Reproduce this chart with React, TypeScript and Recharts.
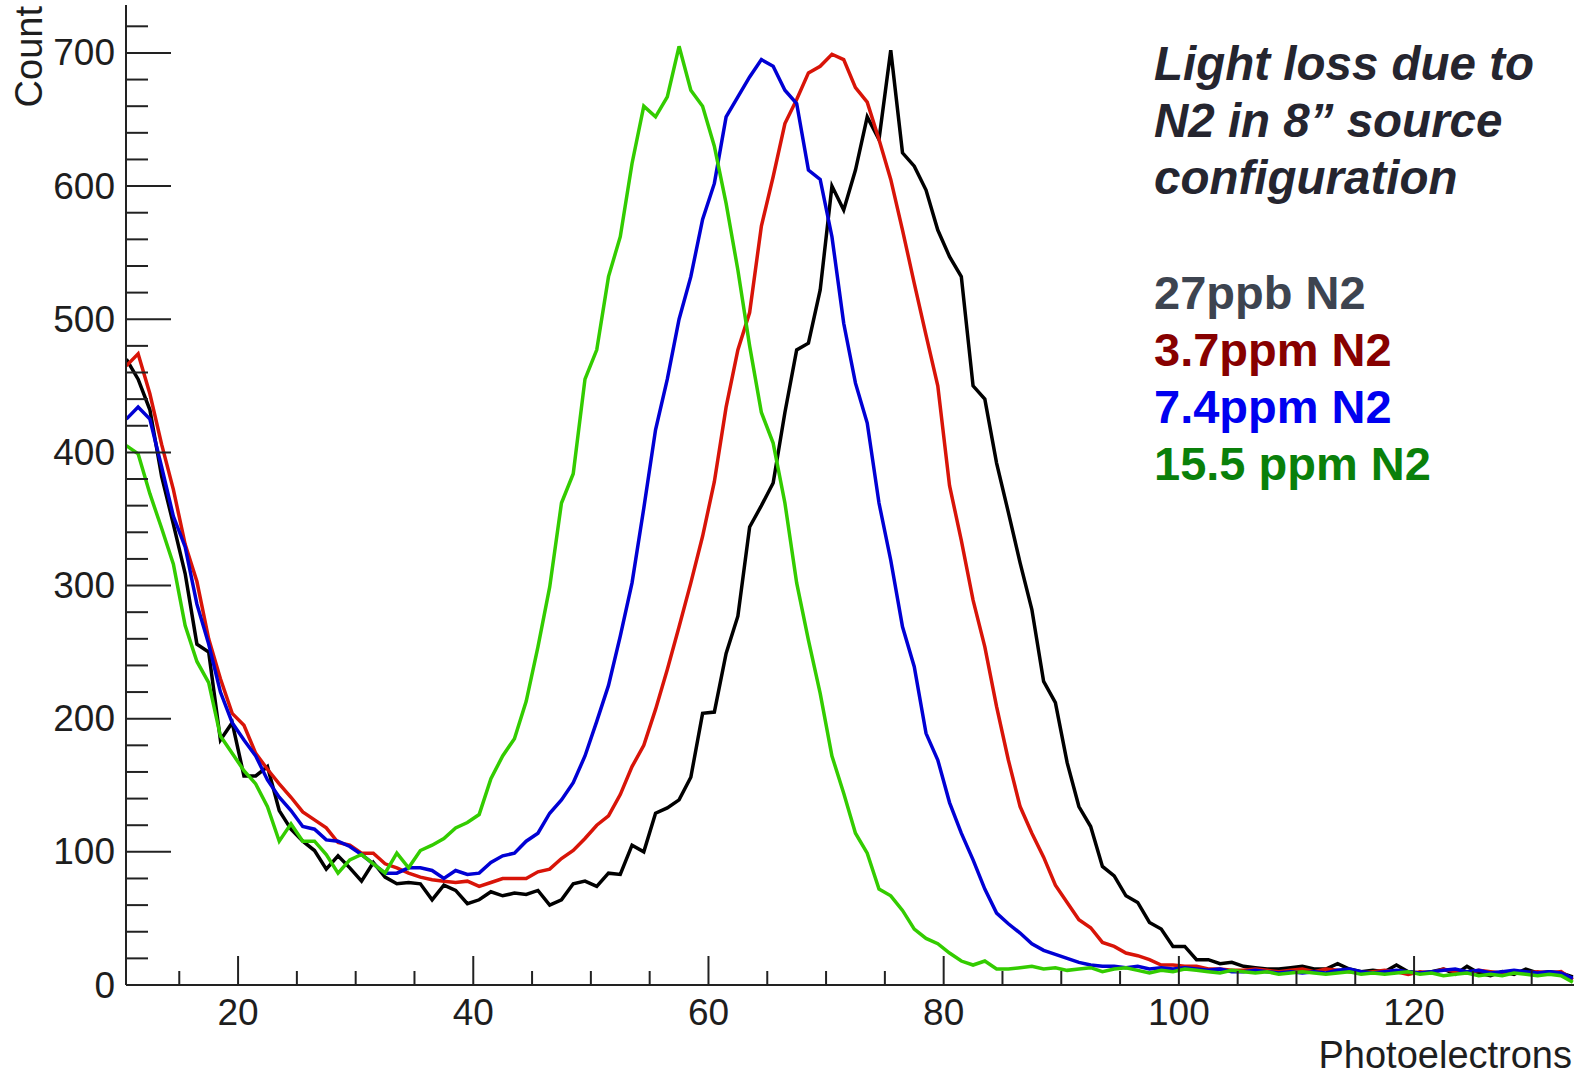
import React from 'react';
import { LineChart, Line, XAxis, YAxis } from 'recharts';

const photoelectrons = [
  10.5, 11.5, 12.5, 13.5, 14.5, 15.5, 16.5, 17.5, 18.5, 19.5,
  20.5, 21.5, 22.5, 23.5, 24.5, 25.5, 26.5, 27.5, 28.5, 29.5,
  30.5, 31.5, 32.5, 33.5, 34.5, 35.5, 36.5, 37.5, 38.5, 39.5,
  40.5, 41.5, 42.5, 43.5, 44.5, 45.5, 46.5, 47.5, 48.5, 49.5,
  50.5, 51.5, 52.5, 53.5, 54.5, 55.5, 56.5, 57.5, 58.5, 59.5,
  60.5, 61.5, 62.5, 63.5, 64.5, 65.5, 66.5, 67.5, 68.5, 69.5,
  70.5, 71.5, 72.5, 73.5, 74.5, 75.5, 76.5, 77.5, 78.5, 79.5,
  80.5, 81.5, 82.5, 83.5, 84.5, 85.5, 86.5, 87.5, 88.5, 89.5,
  90.5, 91.5, 92.5, 93.5, 94.5, 95.5, 96.5, 97.5, 98.5, 99.5,
  100.5, 101.5, 102.5, 103.5, 104.5, 105.5, 106.5, 107.5, 108.5, 109.5,
  110.5, 111.5, 112.5, 113.5, 114.5, 115.5, 116.5, 117.5, 118.5, 119.5,
  120.5, 121.5, 122.5, 123.5, 124.5, 125.5, 126.5, 127.5, 128.5, 129.5,
  130.5, 131.5, 132.5, 133.5,
];

const count27ppb = [
  470, 455, 432, 382, 346, 309, 256, 250, 184, 197,
  157, 157, 164, 131, 117, 108, 101, 87, 97, 88,
  78, 92, 81, 76, 77, 76, 64, 75, 71, 61,
  64, 70, 67, 69, 68, 71, 60, 64, 76, 78,
  74, 84, 83, 105, 100, 129, 133, 139, 156, 204,
  205, 249, 277, 344, 360, 377, 430, 477, 482, 522,
  600, 582, 612, 652, 635, 702, 625, 615, 597, 567,
  547, 532, 450, 440, 392, 355, 317, 282, 228, 212,
  167, 134, 119, 89, 82, 67, 62, 47, 42, 29,
  29, 19, 19, 16, 17, 14, 13, 12, 12, 13,
  14, 12, 12, 16, 12, 10, 11, 10, 15, 10,
  9, 10, 12, 8, 14, 9, 7, 10, 8, 12,
  9, 10, 9, 6,
];

const count3p7ppm = [
  465, 474, 444, 406, 372, 331, 303, 260, 230, 204,
  195, 174, 162, 151, 141, 130, 124, 118, 107, 105,
  99, 99, 91, 88, 84, 81, 79, 78, 77, 78,
  74, 77, 80, 80, 80, 85, 87, 95, 101, 110,
  120, 127, 143, 164, 180, 207, 237, 269, 302, 337,
  378, 434, 477, 505, 570, 607, 647, 665, 685, 690,
  699, 695, 674, 663, 635, 605, 567, 527, 488, 450,
  375, 334, 289, 254, 209, 169, 134, 114, 96, 75,
  62, 49, 43, 32, 29, 24, 22, 19, 15, 15,
  14, 14, 12, 12, 11, 11, 12, 11, 10, 11,
  12, 10, 12, 11, 10, 9, 10, 11, 10, 8,
  10, 9, 12, 10, 9, 11, 10, 9, 10, 9,
  10, 9, 10, 4,
];

const count7p4ppm = [
  425, 434, 425, 389, 352, 329, 286, 256, 220, 197,
  184, 172, 154, 141, 131, 119, 117, 109, 108, 104,
  98, 91, 84, 84, 88, 88, 86, 80, 86, 83,
  84, 92, 97, 99, 108, 114, 129, 139, 152, 172,
  198, 225, 262, 302, 358, 417, 455, 500, 532, 575,
  602, 652, 667, 682, 695, 690, 672, 662, 612, 605,
  562, 497, 452, 422, 362, 319, 269, 239, 189, 169,
  137, 114, 94, 72, 54, 46, 39, 31, 26, 23,
  20, 17, 15, 14, 14, 13, 14, 12, 13, 12,
  13, 12, 11, 12, 10, 10, 11, 10, 9, 10,
  9, 10, 9, 11, 12, 10, 9, 10, 11, 10,
  9, 10, 11, 12, 10, 11, 9, 10, 11, 10,
  9, 10, 9, 5,
];

const count15p5ppm = [
  405, 399, 369, 343, 316, 270, 243, 227, 187, 174,
  161, 151, 134, 108, 121, 108, 108, 98, 84, 94,
  98, 91, 84, 99, 88, 101, 105, 110, 118, 122,
  128, 155, 172, 185, 213, 254, 299, 362, 384, 455,
  477, 532, 562, 617, 660, 652, 667, 705, 672, 660,
  630, 587, 537, 480, 430, 407, 362, 302, 259, 219,
  172, 144, 114, 99, 72, 67, 56, 42, 35, 31,
  24, 18, 15, 18, 12, 12, 13, 14, 12, 13,
  11, 12, 13, 10, 12, 13, 11, 9, 11, 10,
  12, 11, 10, 9, 11, 10, 9, 10, 8, 9,
  10, 9, 8, 9, 10, 8, 9, 8, 9, 10,
  8, 9, 7, 8, 9, 7, 8, 7, 9, 8,
  7, 8, 7, 2,
];

const xTicks = [15, 20, 25, 30, 35, 40, 45, 50, 55, 60, 65, 70, 75, 80, 85, 90, 95, 100, 105, 110, 115, 120, 125, 130];
const xTickLabels = [20, 40, 60, 80, 100, 120];
const yTicks = [0, 20, 40, 60, 80, 100, 120, 140, 160, 180, 200, 220, 240, 260, 280, 300, 320, 340, 360, 380, 400, 420, 440, 460, 480, 500, 520, 540, 560, 580, 600, 620, 640, 660, 680, 700, 720];
const yTickLabels = [0, 100, 200, 300, 400, 500, 600, 700];

const titleLines = ['Light loss due to', 'N2 in 8\u201D source', 'configuration'];
const legendLabels = ['27ppb N2', '3.7ppm N2', '7.4ppm N2', '15.5 ppm N2'];
const legendColors = ['#3d4450', '#870000', '#0000f0', '#0a800a'];
const seriesKeys = ['ppb27', 'ppm3p7', 'ppm7p4', 'ppm15p5'];
const seriesColors = ['#000000', '#d81408', '#0000d4', '#33cc00'];

const data = photoelectrons.map((x, i) => ({
  x,
  ppb27: count27ppb[i],
  ppm3p7: count3p7ppm[i],
  ppm7p4: count7p4ppm[i],
  ppm15p5: count15p5ppm[i],
}));

const FONT = '"Liberation Sans", Arial, Helvetica, sans-serif';
const AXIS = '#222222';

const YTick = (props: any) => {
  const { x, y, payload } = props;
  const v = payload.value;
  const major = yTickLabels.includes(v);
  return (
    <g>
      <line x1={x} y1={y} x2={x + (major ? 45 : 22)} y2={y} stroke={AXIS} strokeWidth={2} />
      {major && (
        <text x={x - 11} y={y} textAnchor="end" dominantBaseline="central" fontFamily={FONT} fontSize={37} fill="#1e1e1e">
          {v}
        </text>
      )}
    </g>
  );
};

const XTick = (props: any) => {
  const { x, y, payload } = props;
  const v = payload.value;
  const major = xTickLabels.includes(v);
  return (
    <g>
      <line x1={x} y1={y} x2={x} y2={y - (major ? 29 : 14)} stroke={AXIS} strokeWidth={2} />
      {major && (
        <text x={x} y={y + 40} textAnchor="middle" fontFamily={FONT} fontSize={37} fill="#1e1e1e">
          {v}
        </text>
      )}
    </g>
  );
};

export default function App() {
  return (
    <div style={{ position: 'absolute', left: 0, top: 0, width: 1581, height: 1077, background: '#ffffff', overflow: 'hidden' }}>
      <LineChart width={1581} height={1077} data={data} margin={{ top: 5, right: 7, bottom: 0, left: 0 }}>
        <XAxis
          dataKey="x"
          type="number"
          domain={[10.47, 133.6]}
          allowDataOverflow
          ticks={xTicks}
          interval={0}
          height={92}
          tickSize={0}
          tickMargin={0}
          tickLine={false}
          axisLine={{ stroke: AXIS, strokeWidth: 2 }}
          tick={<XTick />}
        />
        <XAxis
          xAxisId="top"
          orientation="top"
          type="number"
          domain={[10.47, 133.6]}
          height={0}
          tick={false}
          tickLine={false}
          axisLine={{ stroke: AXIS, strokeWidth: 2 }}
        />
        <YAxis
          type="number"
          domain={[0, 736]}
          allowDataOverflow
          ticks={yTicks}
          interval={0}
          width={126}
          tickSize={0}
          tickMargin={0}
          tickLine={false}
          axisLine={{ stroke: AXIS, strokeWidth: 2 }}
          tick={<YTick />}
        />
        <YAxis
          yAxisId="right"
          orientation="right"
          type="number"
          domain={[0, 736]}
          width={0}
          tick={false}
          tickLine={false}
          axisLine={{ stroke: AXIS, strokeWidth: 2 }}
        />
        {seriesKeys.map((k, i) => (
          <Line
            key={k}
            dataKey={k}
            type="linear"
            stroke={seriesColors[i]}
            strokeWidth={3.5}
            strokeLinejoin="miter"
            dot={false}
            activeDot={false}
            isAnimationActive={false}
          />
        ))}
      </LineChart>
      <svg width={1581} height={1077} style={{ position: 'absolute', left: 0, top: 0, pointerEvents: 'none' }}>
        <text transform="translate(42,6) rotate(-90)" textAnchor="end" fontFamily={FONT} fontSize={38} fill="#1e1e1e">
          Count
        </text>
        <text x={1572} y={1068} textAnchor="end" fontFamily={FONT} fontSize={38} fill="#1e1e1e">
          Photoelectrons
        </text>
        {titleLines.map((t, i) => (
          <text key={t} x={1154} y={80 + i * 57} fontFamily={FONT} fontSize={47.5} fontWeight="bold" fontStyle="italic" fill="#25252f">
            {t}
          </text>
        ))}
        {legendLabels.map((t, i) => (
          <text key={t} x={1154} y={309 + i * 57} fontFamily={FONT} fontSize={47} fontWeight="bold" fill={legendColors[i]}>
            {t}
          </text>
        ))}
      </svg>
    </div>
  );
}
